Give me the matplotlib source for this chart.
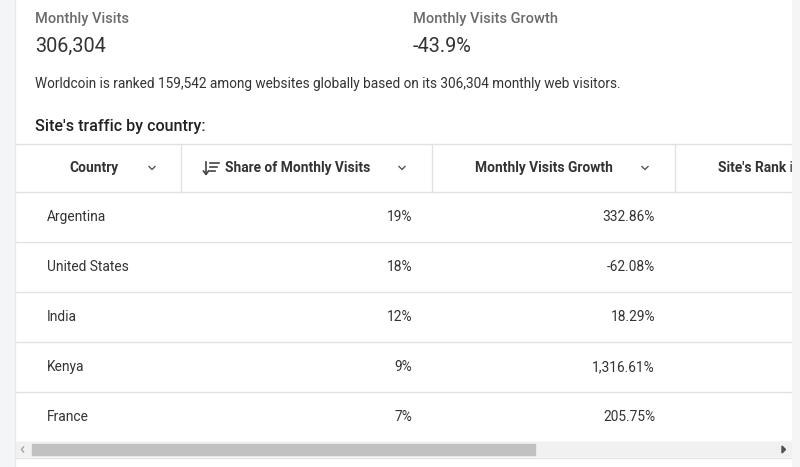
import matplotlib.pyplot as plt
from matplotlib.patches import Rectangle

plt.rcParams['font.family'] = ['Roboto', 'DejaVu Sans']

# summary numbers
visits_label = 'Monthly Visits'
visits_value = '306,304'
growth_label = 'Monthly Visits Growth'
growth_value = '-43.9%'
summary_text = 'Worldcoin is ranked 159,542 among websites globally based on its 306,304 monthly web visitors.'
table_title = "Site's traffic by country:"

# table (last header is cut by the card edge in the screenshot)
columns = ['Country', 'Share of Monthly Visits', 'Monthly Visits Growth', "Site's Rank i"]
countries = ['Argentina', 'United States', 'India', 'Kenya', 'France']
shares = [19, 18, 12, 9, 7]
growths = [332.86, -62.08, 18.29, 1316.61, 205.75]

W, H = 800, 467
fig = plt.figure(figsize=(8, 4.67), dpi=100)
ax = fig.add_axes([0, 0, 1, 1])
ax.set_xlim(0, W)
ax.set_ylim(H, 0)
ax.axis('off')

line_c = '#e2e2e2'
dark = '#333333'
grey = '#6b6b6b'

# page background strips
ax.add_patch(Rectangle((0, 0), 15, H, color='#f4f5f7', zorder=5))
ax.add_patch(Rectangle((792, 0), 8, H, color='#f4f5f7', zorder=5))
ax.plot([15, 15], [0, H], color='#e8e8e8', lw=0.8, zorder=6)

# summary block
ax.text(35, 19, visits_label, fontsize=10.5, color=grey, weight='medium', va='center')
ax.text(35, 46, visits_value, fontsize=14.3, color=dark, va='center')
ax.text(413, 19, growth_label, fontsize=10.5, color=grey, weight='medium', va='center')
ax.text(413, 46, growth_value, fontsize=14.3, color=dark, va='center')
ax.text(35, 84, summary_text, fontsize=9.8, color=dark, va='center')
ax.text(35, 126, table_title, fontsize=11.6, color='#222222', weight='medium', va='center')

# table grid
top, head_bot, row_h = 144, 192, 50
ax.plot([15, 792], [top, top], color=line_c, lw=1)
for i in range(len(countries) + 1):
    y = head_bot + i * row_h
    ax.plot([15, 792], [y, y], color=line_c, lw=1)
for x in [181, 432, 675]:
    ax.plot([x, x], [top, head_bot], color=line_c, lw=1)


def chevron(x, y):
    ax.plot([x - 3, x, x + 3], [y - 1.5, y + 1.5, y - 1.5], color='#555555', lw=1)


hy = 168
ax.text(94, hy, columns[0], fontsize=9.9, weight='bold', color=dark, ha='center', va='center')
chevron(152, hy)
ax.text(225, hy, columns[1], fontsize=9.9, weight='bold', color=dark, ha='left', va='center')
chevron(402, hy)
ax.text(544, hy, columns[2], fontsize=9.9, weight='bold', color=dark, ha='center', va='center')
chevron(645, hy)
ax.text(718, hy, columns[3], fontsize=9.9, weight='bold', color=dark, ha='left', va='center')

# sort icon
ax.plot([206, 206], [162, 174], color='#444444', lw=1.2)
ax.plot([203.5, 206, 208.5], [171, 174.5, 171], color='#444444', lw=1.2)
for k, w in enumerate([9, 7, 5]):
    yy = 163 + k * 4
    ax.plot([210, 210 + w], [yy, yy], color='#444444', lw=1.2)

# rows
for i, (c, s, g) in enumerate(zip(countries, shares, growths)):
    y = head_bot + row_h / 2 + i * row_h
    ax.text(47, y, c, fontsize=9.9, color=dark, va='center')
    ax.text(412, y, f'{s}%', fontsize=9.9, color=dark, ha='right', va='center')
    ax.text(655, y, f'{g:,.2f}%', fontsize=9.9, color=dark, ha='right', va='center')

# horizontal scrollbar
ax.add_patch(Rectangle((15, 442), 777, 14, color='#f1f1f1', zorder=2))
ax.add_patch(Rectangle((32, 444), 503, 11, color='#c1c1c1', zorder=3))
ax.plot([23.5, 21.5, 23.5], [447, 449.5, 452], color='#a3a3a3', lw=1, zorder=4)
ax.fill([782, 782, 785.5], [446, 453, 449.5], color='#505050', zorder=4)
ax.plot([15, 792], [458, 458], color=line_c, lw=1)

fig.savefig('out.png', dpi=100, facecolor='white')
